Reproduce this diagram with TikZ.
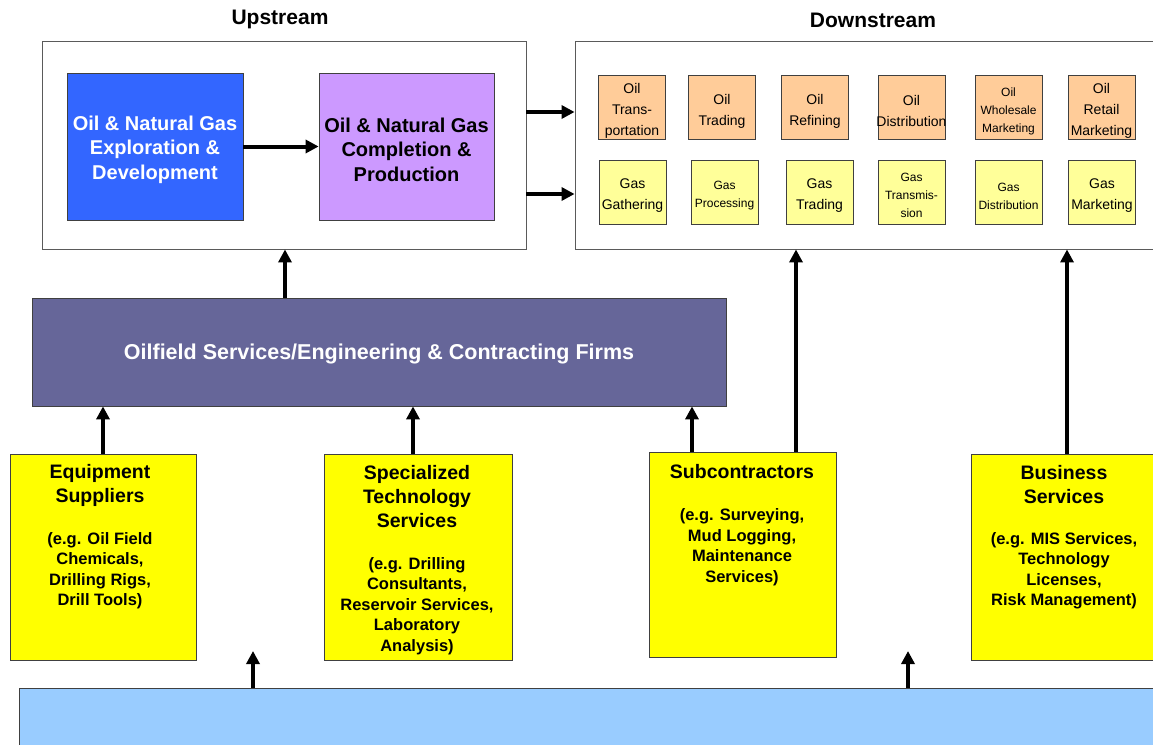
\documentclass[tikz,border=0pt]{standalone}
\usepackage{fontspec}
\setmainfont{Liberation Sans}
\usetikzlibrary{arrows.meta}

\definecolor{edgegray}{HTML}{404040}
\definecolor{framegray}{HTML}{5A5A5A}
\definecolor{explblue}{HTML}{3366FF}
\definecolor{prodviolet}{HTML}{CC99FF}
\definecolor{oilorange}{HTML}{FFCC99}
\definecolor{gaspale}{HTML}{FFFF99}
\definecolor{supyellow}{HTML}{FFFF00}
\definecolor{servslate}{HTML}{666699}
\definecolor{baseblue}{HTML}{99CCFF}

\tikzset{
  frame/.style={draw=framegray, line width=0.9pt, fill=white, inner sep=0pt},
  box/.style={draw=edgegray, line width=0.8pt, inner sep=0pt},
  arr/.style={line width=4pt, -{Triangle[length=13pt,width=13pt]}},
  headtxt/.style={font=\fontsize{21}{25}\selectfont\bfseries},
  bigtxt/.style={font=\fontsize{20}{24.5}\selectfont\bfseries, align=center, inner sep=0pt},
  oiltxt/.style={font=\fontsize{14}{21}\selectfont, align=center, inner sep=0pt},
  smalltxt/.style={font=\fontsize{12}{18}\selectfont, align=center, inner sep=0pt},
  ttltxt/.style={font=\fontsize{19.5}{24}\selectfont\bfseries, align=center, inner sep=0pt},
  subtxt/.style={font=\fontsize{16.5}{20.5}\selectfont\bfseries, align=center, inner sep=0pt},
  oilbox/.style={box, fill=oilorange, minimum width=67pt, minimum height=64pt},
  gasbox/.style={box, fill=gaspale, minimum width=67pt, minimum height=64pt},
  supbox/.style={box, fill=supyellow, minimum height=206pt},
}

\begin{document}
\begin{tikzpicture}[x=1pt, y=-1pt]
\useasboundingbox (0,0) rectangle (1153,744);

% section headings
\node[headtxt] (uphead) at (280,19) {Upstream};
\node[headtxt] (downhead) at (873,20) {Downstream};

% upstream frame and its two stages
\node[frame, minimum width=484pt, minimum height=208pt] (up) at (284,145) {};
\node[box, fill=explblue, minimum width=176pt, minimum height=147pt] (expl) at (155,146.5) {};
\node[bigtxt, text=white] (explt) at ([yshift=-3pt]expl.center) {Oil \& Natural Gas\\Exploration \&\\Development};
\node[box, fill=prodviolet, minimum width=175pt, minimum height=147pt] (prod) at (406.5,146.5) {};
\node[bigtxt] (prodt) at ([yshift=-3pt]prod.center) {Oil \& Natural Gas\\Completion \&\\Production};
\draw[arr] (expl.east) -- (prod.west);

% downstream frame
\node[frame, minimum width=585pt, minimum height=208pt] (down) at (867.5,145) {};

% oil chain
\node[oilbox] (o1) at (632,107) {};
\node[oiltxt] (o1t) at ([yshift=-4pt]o1.center) {Oil\\Trans-\\portation};
\node[oilbox] (o2) at (722,107) {};
\node[oiltxt] (o2t) at ([yshift=-4pt]o2.center) {Oil\\Trading};
\node[oilbox] (o3) at (815,107) {};
\node[oiltxt] (o3t) at ([yshift=-4pt]o3.center) {Oil\\Refining};
\node[oilbox] (o4) at (911.5,107) {};
\node[oiltxt] (o4t) at ([yshift=-4pt]o4.center) {Oil\\Distribution};
\node[oilbox] (o5) at (1008.5,107) {};
\node[smalltxt] (o5t) at ([yshift=-4pt]o5.center) {Oil\\Wholesale\\Marketing};
\node[oilbox] (o6) at (1101.5,107) {};
\node[oiltxt] (o6t) at ([yshift=-4pt]o6.center) {Oil\\Retail\\Marketing};

% gas chain
\node[gasbox] (g1) at (632.5,192) {};
\node[oiltxt] (g1t) at ([yshift=-4pt]g1.center) {Gas\\Gathering};
\node[gasbox] (g2) at (724.5,192) {};
\node[smalltxt] (g2t) at ([yshift=-4pt]g2.center) {Gas\\Processing};
\node[gasbox] (g3) at (819.5,192) {};
\node[oiltxt] (g3t) at ([yshift=-4pt]g3.center) {Gas\\Trading};
\node[gasbox] (g4) at (911.5,192) {};
\node[smalltxt] (g4t) at ([yshift=-3pt]g4.center) {Gas\\Transmis-\\sion};
\node[gasbox] (g5) at (1008.5,192) {};
\node[smalltxt] (g5t) at ([yshift=-4pt]g5.center) {Gas\\Distribution};
\node[gasbox] (g6) at (1102,192) {};
\node[oiltxt] (g6t) at ([yshift=-4pt]g6.center) {Gas\\Marketing};

% upstream feeds downstream
\coordinate (r1) at (0,112);
\coordinate (r2) at (0,194);
\draw[arr] (up.east |- r1) -- (down.west |- r1);
\draw[arr] (up.east |- r2) -- (down.west |- r2);

% oilfield services band
\node[box, fill=servslate, minimum width=694pt, minimum height=108pt] (ofs) at (379,352) {};
\node[text=white, font=\fontsize{21.5}{25}\selectfont\bfseries, inner sep=0pt] (ofst) at ([yshift=-2pt]ofs.center)
  {Oilfield Services/Engineering \& Contracting Firms};
\coordinate (c285) at (285,0);
\draw[arr] (ofs.north -| c285) -- (up.south -| c285);

% supplier boxes
\node[supbox, minimum width=186pt] (equip) at (103,557) {};
\node[ttltxt] (equipt) at (100,485) {Equipment\\Suppliers};
\node[subtxt] (equips) at (100,570.5) {(e.g. Oil Field\\Chemicals,\\Drilling Rigs,\\Drill Tools)};

\node[supbox, minimum width=188pt] (spec) at (418,557) {};
\node[ttltxt] (spect) at (417,496.5) {Specialized\\Technology\\Services};
\node[subtxt] (specs) at (417,606) {(e.g. Drilling\\Consultants,\\Reservoir Services,\\Laboratory\\Analysis)};

\node[supbox, minimum width=187pt, minimum height=205pt] (subc) at (742.5,554.5) {};
\node[ttltxt] (subct) at (742,472) {Subcontractors};
\node[subtxt] (subcs) at (742,547) {(e.g. Surveying,\\Mud Logging,\\Maintenance\\Services)};

\node[supbox, minimum width=189pt] (bus) at (1065.5,557) {};
\node[ttltxt] (bust) at (1064,484.5) {Business\\Services};
\node[subtxt] (buss) at (1064,571) {(e.g. MIS Services,\\Technology\\Licenses,\\Risk Management)};

% supplier links
\coordinate (c103) at (103,0);
\coordinate (c413) at (413,0);
\coordinate (c692) at (692,0);
\coordinate (c796) at (796,0);
\coordinate (c1067) at (1067,0);
\draw[arr] (equip.north -| c103) -- (ofs.south -| c103);
\draw[arr] (spec.north -| c413) -- (ofs.south -| c413);
\draw[arr] (subc.north -| c692) -- (ofs.south -| c692);
\draw[arr] (subc.north -| c796) -- (down.south -| c796);
\draw[arr] (bus.north -| c1067) -- (down.south -| c1067);

% base band along the bottom
\node[box, fill=baseblue, minimum width=1141pt, minimum height=72pt] (base) at (589.5,724) {};
\coordinate (t1) at (253,651);
\coordinate (t2) at (908,651);
\draw[arr] (base.north -| t1) -- (t1);
\draw[arr] (base.north -| t2) -- (t2);
\end{tikzpicture}
\end{document}
